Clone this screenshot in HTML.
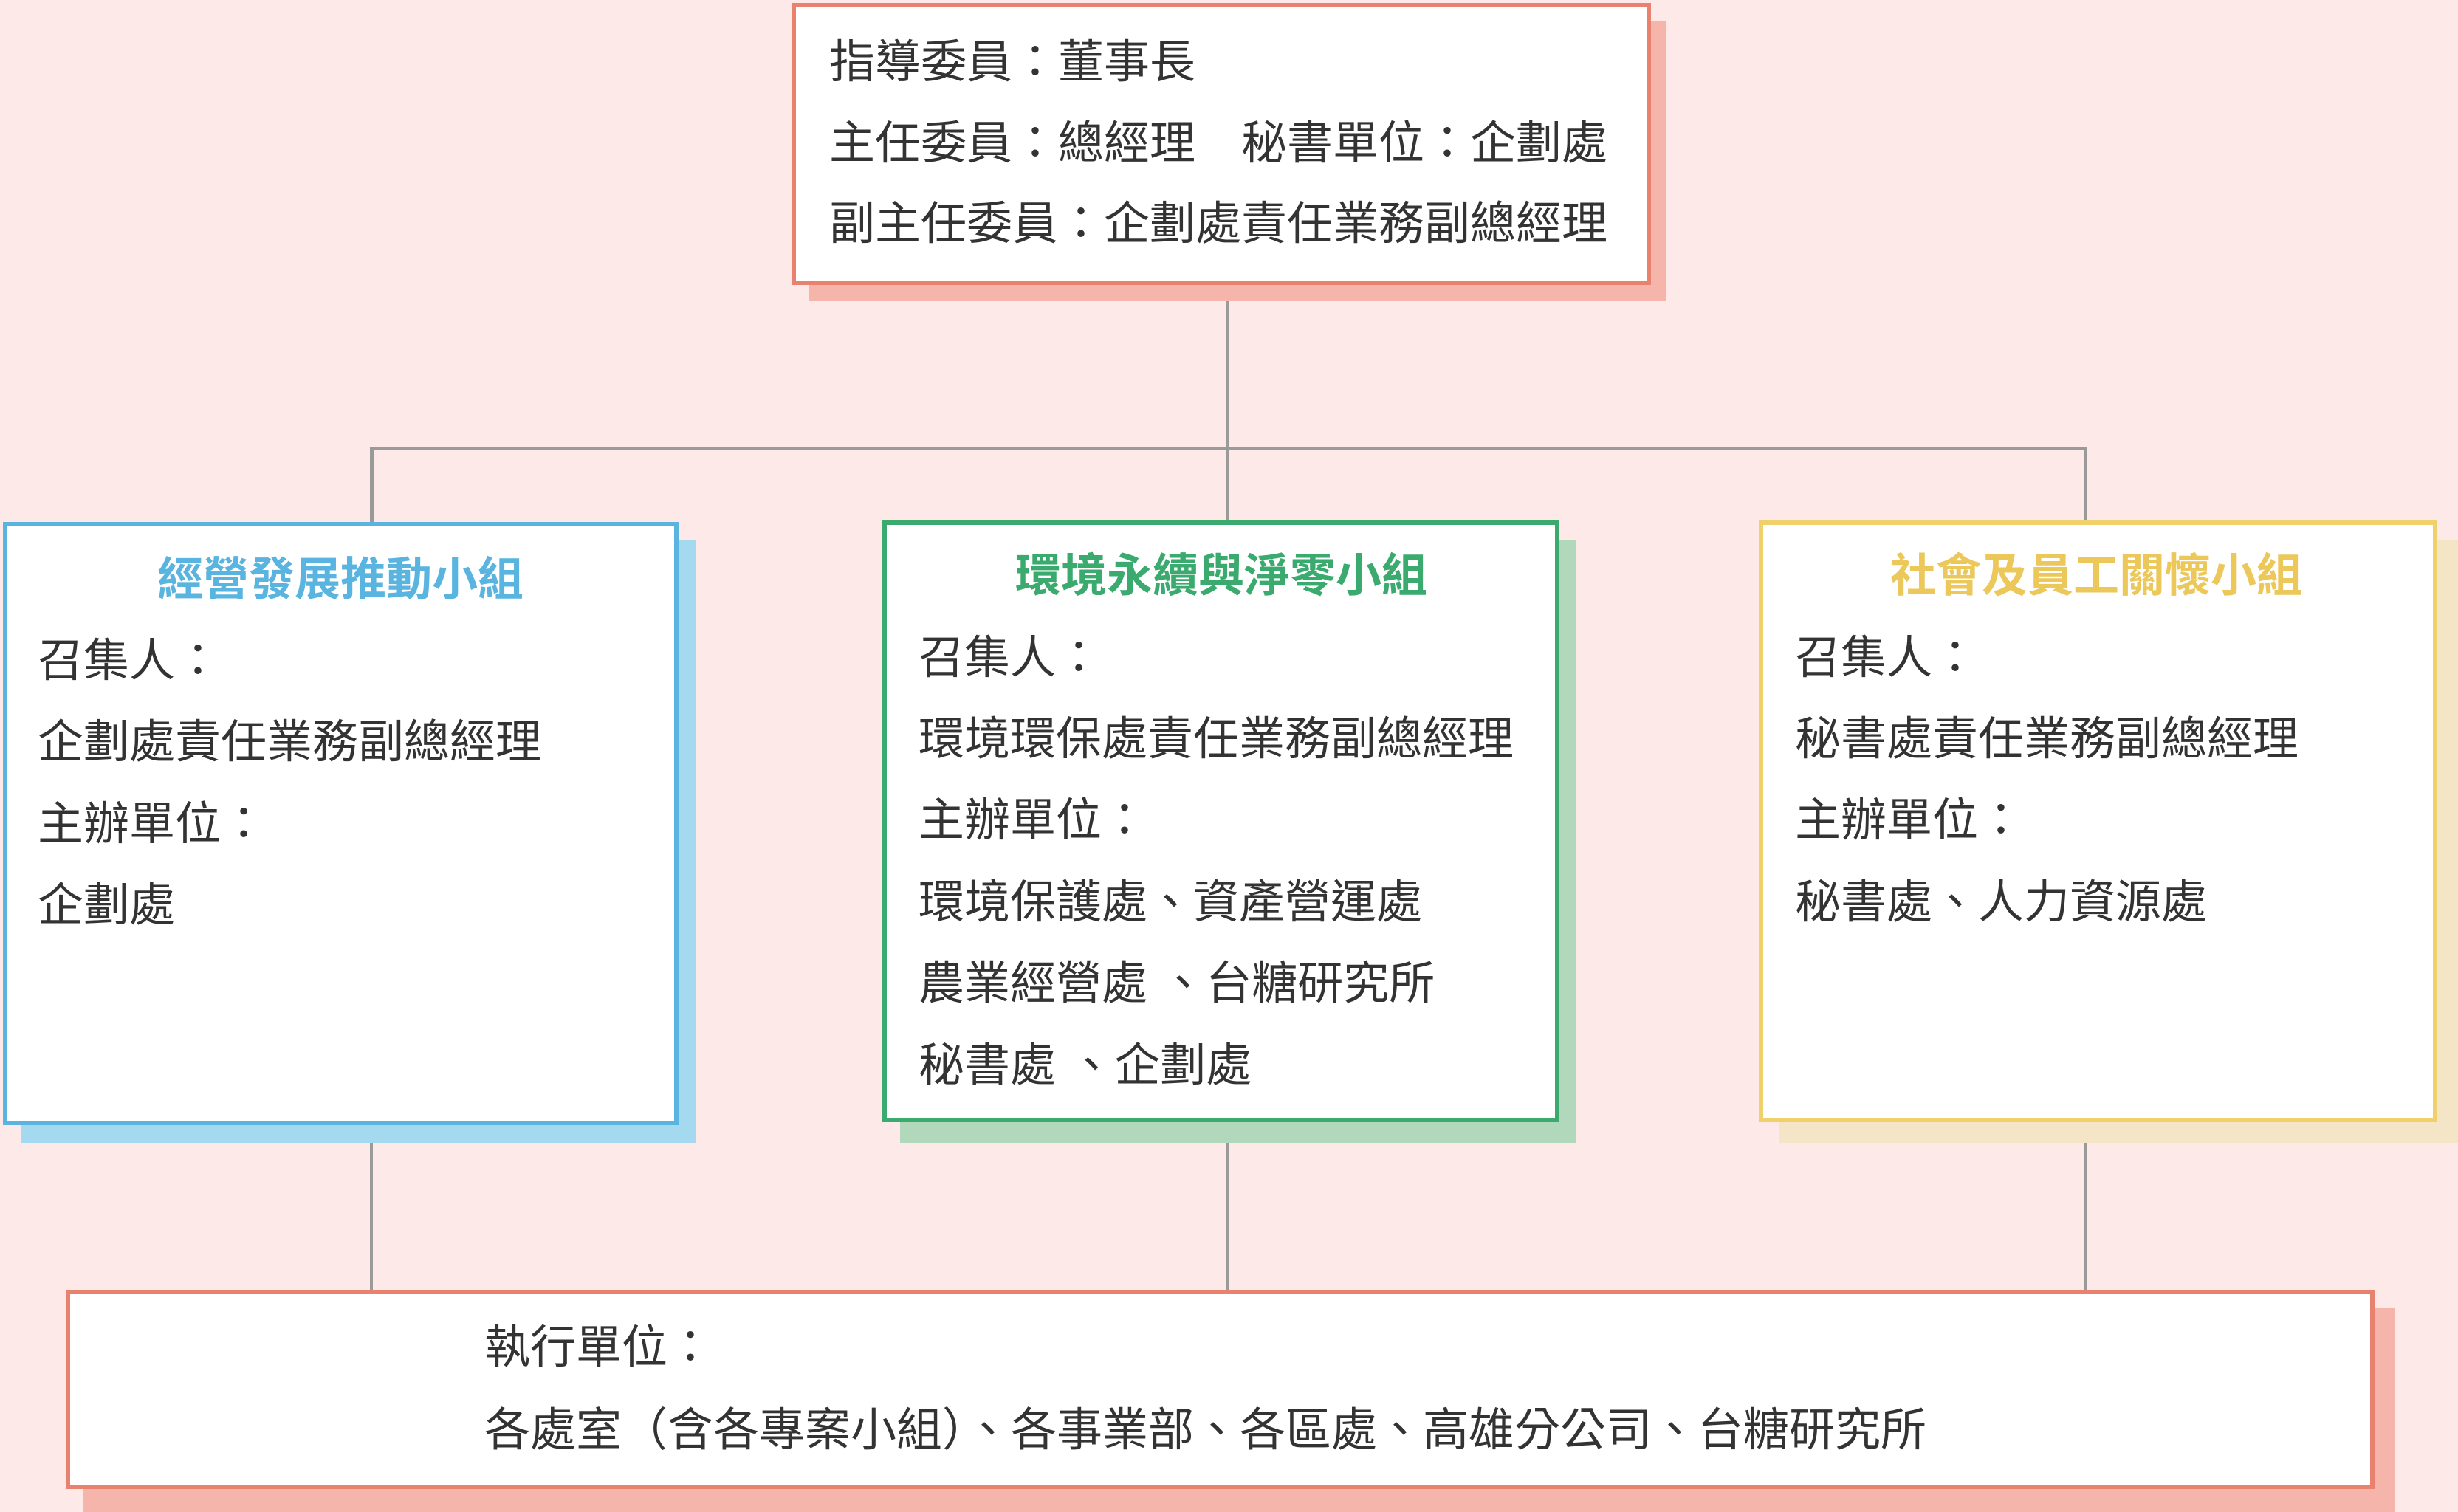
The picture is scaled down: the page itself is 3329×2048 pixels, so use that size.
<!DOCTYPE html>
<html><head><meta charset="utf-8"><style>
body{margin:0;width:3329px;height:2048px;background:#fde9e7;position:relative;overflow:hidden;font-family:"Liberation Sans","Noto Sans CJK TC",sans-serif;color:#333}
.a{position:absolute;box-sizing:border-box}
.t{position:absolute;font-size:62px;line-height:110px;white-space:nowrap}
.h{font-weight:bold;text-align:center;width:900px}
.l{position:absolute;background:#9a9a9a}
</style></head><body>
<!-- connectors -->
<div class="l" style="left:1660px;top:400px;width:5px;height:310px"></div>
<div class="l" style="left:501px;top:605px;width:2326px;height:5px"></div>
<div class="l" style="left:501px;top:605px;width:5px;height:105px"></div>
<div class="l" style="left:2822px;top:605px;width:5px;height:105px"></div>
<div class="l" style="left:501px;top:1540px;width:4px;height:210px"></div>
<div class="l" style="left:1660px;top:1540px;width:4px;height:210px"></div>
<div class="l" style="left:2822px;top:1540px;width:4px;height:210px"></div>

<!-- top box -->
<div class="a" style="left:1095px;top:28px;width:1162px;height:380px;background:#f5b5aa"></div>
<div class="a" style="left:1072px;top:4px;width:1164px;height:382px;background:#fff;border:6px solid #e8826f"></div>
<div class="t" style="left:1123px;top:30px">指導委員：董事長</div>
<div class="t" style="left:1123px;top:140px">主任委員：總經理　秘書單位：企劃處</div>
<div class="t" style="left:1123px;top:249px">副主任委員：企劃處責任業務副總經理</div>

<!-- blue -->
<div class="a" style="left:28px;top:732px;width:915px;height:816px;background:#a4d9ef"></div>
<div class="a" style="left:4px;top:707px;width:915px;height:817px;background:#fff;border:6px solid #5ab4e0"></div>
<div class="t h" style="left:11px;top:731px;color:#5ab4e0">經營發展推動小組</div>
<div class="t" style="left:51px;top:841px">召集人：</div>
<div class="t" style="left:51px;top:951px">企劃處責任業務副總經理</div>
<div class="t" style="left:51px;top:1062px">主辦單位：</div>
<div class="t" style="left:51px;top:1172px">企劃處</div>

<!-- green -->
<div class="a" style="left:1219px;top:732px;width:915px;height:816px;background:#b2d8bc"></div>
<div class="a" style="left:1195px;top:705px;width:917px;height:815px;background:#fff;border:6px solid #3aaa6e"></div>
<div class="t h" style="left:1204px;top:726px;color:#3aaa6e">環境永續與淨零小組</div>
<div class="t" style="left:1244px;top:837px">召集人：</div>
<div class="t" style="left:1244px;top:947px">環境環保處責任業務副總經理</div>
<div class="t" style="left:1244px;top:1057px">主辦單位：</div>
<div class="t" style="left:1244px;top:1168px">環境保護處、資產營運處</div>
<div class="t" style="left:1244px;top:1278px">農業經營處 、台糖研究所</div>
<div class="t" style="left:1244px;top:1389px">秘書處 、企劃處</div>

<!-- yellow -->
<div class="a" style="left:2410px;top:732px;width:919px;height:816px;background:#f3e5c5"></div>
<div class="a" style="left:2382px;top:705px;width:919px;height:815px;background:#fff;border:6px solid #f0d06a"></div>
<div class="t h" style="left:2389px;top:726px;color:#ecc85a">社會及員工關懷小組</div>
<div class="t" style="left:2431px;top:837px">召集人：</div>
<div class="t" style="left:2431px;top:947px">秘書處責任業務副總經理</div>
<div class="t" style="left:2431px;top:1057px">主辦單位：</div>
<div class="t" style="left:2431px;top:1168px">秘書處、人力資源處</div>

<!-- bottom -->
<div class="a" style="left:112px;top:1772px;width:3132px;height:276px;background:#f5b5aa"></div>
<div class="a" style="left:89px;top:1747px;width:3127px;height:270px;background:#fff;border:6px solid #e8826f"></div>
<div class="t" style="left:656px;top:1771px">執行單位：</div>
<div class="t" style="left:656px;top:1883px">各處室（含各專案小組）、各事業部、各區處、高雄分公司、台糖研究所</div>
</body></html>
